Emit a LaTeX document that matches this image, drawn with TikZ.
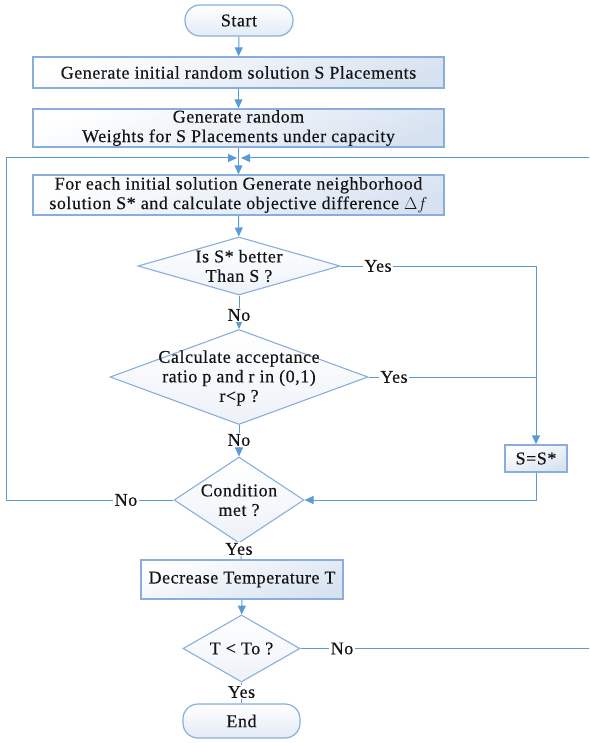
\documentclass[tikz,border=0pt]{standalone}
\usepackage{fontspec}
\setmainfont{Liberation Serif}[LetterSpace=3, FakeBold=0.35]
\usetikzlibrary{arrows.meta,shapes.geometric,calc}

\definecolor{flow}{HTML}{5B9BD5}
\definecolor{frame}{HTML}{8AAEDB}
\definecolor{tint}{HTML}{D7E2F1}
\definecolor{ink}{HTML}{141414}

\begin{document}
\begin{tikzpicture}[x=1pt,y=-1pt,
  every node/.style={font=\fontsize{18}{19.5}\selectfont, text=ink},
  proc/.style={draw=frame, line width=1.4pt, top color=white, bottom color=tint,
    shading angle=20, align=center, inner sep=0pt},
  term/.style={draw=frame, line width=1.2pt, rounded corners=15pt, top color=white,
    bottom color=tint!70, inner sep=0pt},
  dec/.style={diamond, draw=frame, line width=1.1pt, top color=white,
    bottom color=tint!45, inner sep=0pt},
  body/.style={align=center, inner sep=0pt},
  tag/.style={fill=white, inner sep=1.5pt},
  link/.style={draw=flow, line width=1pt},
  arrow/.style={link, -{Triangle[length=9pt,width=8pt]}},
]
\useasboundingbox (0,0) rectangle (589,743);
\clip (0,0) rectangle (589,743);

% main column
\node[term, minimum width=108pt, minimum height=31pt] (start) at (239,20.5) {Start};
\node[proc, minimum width=411pt, minimum height=31pt] (b1) at (238.5,72.5)
  {Generate initial random solution S Placements};
\node[proc, minimum width=411pt, minimum height=38pt] (b2) at (238.5,128)
  {Generate random\\Weights for S Placements under capacity};
\node[proc, minimum width=411pt, minimum height=40pt] (b3) at (238.5,195)
  {For each initial solution Generate neighborhood\\solution S* and calculate objective difference $\Delta f$};

\node[dec, minimum width=202pt, minimum height=58pt] (d1) at (239,266) {};
\node[body] (d1t) at (239,266) {Is S* better\\Than S ?};

\node[dec, minimum width=258pt, minimum height=95pt] (d2) at (239,377) {};
\node[body] (d2t) at (239,378) {Calculate acceptance\\ratio p and r in (0,1)\\r<p ?};

\node[dec, minimum width=130pt, minimum height=86pt] (d3) at (239,500) {};
\node[body] (d3t) at (239,500) {Condition\\met ?};

\node[proc, minimum width=202pt, minimum height=39pt] (b4) at (242,579.5)
  {Decrease Temperature T};

\node[dec, minimum width=117pt, minimum height=67pt] (d4) at (241.5,648.5) {};
\node[body] (d4t) at (241.5,648.5) {T < To ?};

\node[term, minimum width=117pt, minimum height=34pt] (end) at (241.5,721) {End};

% side box
\node[proc, minimum width=62pt, minimum height=27pt] (sss) at (536,458.5) {S=S*};

% loop junction above the neighbourhood box
\coordinate (join) at (239,158);
\coordinate (lft) at (6,158);
\coordinate (rgt) at (595,158);

% straight flow
\draw[arrow] (start) -- (b1);
\draw[arrow] (b1) -- (b2);
\draw[arrow] (b2) -- (b3);
\draw[arrow] (b3) -- (d1);
\draw[arrow] (d1) -- (d2);
\draw[arrow] (d2) -- (d3);
\draw[link] (d3) -- (b4);
\draw[arrow] (b4) -- (d4);
\draw[link] (d4) -- (end);

% accepted branch
\draw[arrow] (d1.east) -| (sss.north);
\draw[link] (d2.east) -- (d2.east -| sss.north);
\draw[arrow] (sss.south) |- (d3.east);

% outer loops
\draw[arrow, shorten >=2pt] (d3.west) -| (lft) -- (join);
\draw[arrow, shorten >=2pt] (d4.east) -| (rgt) -- (join);

% branch labels
\node[tag] (n1) at (239,315) {No};
\node[tag] (y1) at (378,266) {Yes};
\node[tag] (y2) at (394,377) {Yes};
\node[tag] (n2) at (239,440) {No};
\node[tag] (n3) at (126,500) {No};
\node[tag] (y3) at (239,549) {Yes};
\node[tag] (n4) at (342,648.5) {No};
\node[tag] (y4) at (241.5,692) {Yes};
\end{tikzpicture}
\end{document}
